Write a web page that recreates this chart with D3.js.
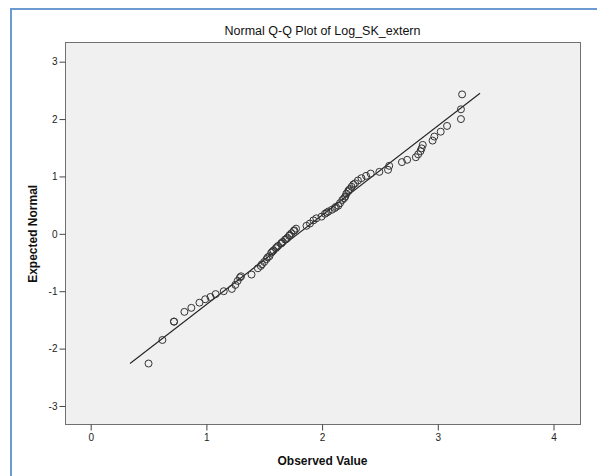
<!DOCTYPE html>
<html>
<head>
<meta charset="utf-8">
<script src="https://cdn.jsdelivr.net/npm/d3@7"></script>
<style>
  body { margin: 0; background: #fff; }
  svg text { font-family: "Liberation Sans", Arial, sans-serif; }
</style>
</head>
<body>
<div id="chart"></div>
<script>
const observed = [
	0.50, 0.62, 0.72, 0.72, 0.81, 0.87, 0.94, 0.99, 1.035, 1.08,
	1.15, 1.22, 1.25, 1.27, 1.29, 1.30, 1.39, 1.445, 1.47, 1.48,
	1.50, 1.52, 1.53, 1.545, 1.56, 1.57, 1.58, 1.60, 1.61, 1.62,
	1.645, 1.65, 1.66, 1.68, 1.69, 1.70, 1.715, 1.72, 1.735, 1.755,
	1.76, 1.775, 1.865, 1.895, 1.925, 1.95, 1.995, 2.025, 2.04, 2.055,
	2.085, 2.11, 2.12, 2.14, 2.155, 2.175, 2.19, 2.20, 2.21, 2.225,
	2.23, 2.24, 2.255, 2.27, 2.285, 2.31, 2.34, 2.38, 2.42, 2.495,
	2.57, 2.58, 2.69, 2.735, 2.81, 2.83, 2.85, 2.86, 2.87, 2.955,
	2.97, 3.025, 3.08, 3.20, 3.20, 3.21
];
const expected = [
	-2.26, -1.85, -1.53, -1.53, -1.36, -1.29, -1.20, -1.14, -1.10, -1.05,
	-1.00, -0.96, -0.89, -0.82, -0.76, -0.74, -0.71, -0.60, -0.56, -0.53,
	-0.49, -0.44, -0.41, -0.39, -0.33, -0.31, -0.29, -0.25, -0.23, -0.21,
	-0.17, -0.16, -0.14, -0.10, -0.09, -0.07, -0.035, -0.02, 0.01, 0.05,
	0.06, 0.09, 0.14, 0.18, 0.235, 0.27, 0.30, 0.35, 0.37, 0.39,
	0.42, 0.45, 0.47, 0.49, 0.535, 0.59, 0.62, 0.65, 0.70, 0.74,
	0.76, 0.78, 0.82, 0.86, 0.88, 0.93, 0.97, 1.01, 1.05, 1.08,
	1.115, 1.185, 1.25, 1.29, 1.335, 1.385, 1.44, 1.49, 1.55, 1.625,
	1.695, 1.78, 1.88, 2.00, 2.17, 2.43
];
// reference line end points
const lineX = [0.34, 3.365];
const lineY = [-2.26, 2.45];

const xTicks = [0, 1, 2, 3, 4];
const yTicks = [-3, -2, -1, 0, 1, 2, 3];

const width = 597, height = 476;
const plot = { left: 65, top: 42, right: 580, bottom: 424 };

const svg = d3.select("#chart")
	.append("svg")
	.attr("width", width)
	.attr("height", height);

// blue outer frame
svg.append("rect")
	.attr("x", 11)
	.attr("y", 9)
	.attr("width", width)
	.attr("height", height)
	.style("fill", "none")
	.style("stroke", "#6b9bd2")
	.style("stroke-width", 2);

const x = d3.scaleLinear().domain([-0.222, 4.229]).range([plot.left, plot.right]);
const y = d3.scaleLinear().domain([-3.314, 3.343]).range([plot.bottom, plot.top]);

svg.append("rect")
	.attr("x", plot.left + 0.5)
	.attr("y", plot.top + 0.5)
	.attr("width", plot.right - plot.left)
	.attr("height", plot.bottom - plot.top)
	.style("fill", "#f0f0f0")
	.style("stroke", "#707070")
	.style("stroke-width", 1);

// plain hyphen minus like the original, not the unicode minus
const plain = d => String(d);

const xAxis = d3.axisBottom(x).tickValues(xTicks).tickFormat(plain).tickSize(6).tickPadding(3);
svg.append("g")
	.attr("class", "x axis")
	.attr("transform", "translate(0," + (plot.bottom + 0.5) + ")")
	.call(xAxis);

const yAxis = d3.axisLeft(y).tickValues(yTicks).tickFormat(plain).tickSize(6).tickPadding(2);
svg.append("g")
	.attr("class", "y axis")
	.attr("transform", "translate(" + (plot.left + 0.5) + ",0)")
	.call(yAxis);

svg.selectAll(".axis .domain").remove();
svg.selectAll(".axis line").style("stroke", "#444");
svg.selectAll(".axis text")
	.style("font-size", "10px")
	.style("fill", "#222")
	.style("font-family", "'Liberation Sans', Arial, sans-serif");

// fitted line
const line = d3.line()
	.x(d => x(d[0]))
	.y(d => y(d[1]));

svg.append("path")
	.attr("d", line(d3.zip(lineX, lineY)))
	.style("fill", "none")
	.style("stroke", "#222")
	.style("stroke-width", 1.1);

// points
svg.selectAll("circle.pt")
	.data(d3.zip(observed, expected))
	.enter().append("circle")
	.attr("class", "pt")
	.attr("cx", d => x(d[0]))
	.attr("cy", d => y(d[1]))
	.attr("r", 3.5)
	.style("fill", "none")
	.style("stroke", "#333")
	.style("stroke-width", 1);

// titles
svg.append("text")
	.attr("x", (plot.left + plot.right) / 2)
	.attr("y", 35)
	.attr("text-anchor", "middle")
	.style("font-size", "12.5px")
	.style("fill", "#111")
	.text("Normal Q-Q Plot of Log_SK_extern");

svg.append("text")
	.attr("x", (plot.left + plot.right) / 2)
	.attr("y", 465)
	.attr("text-anchor", "middle")
	.style("font-size", "12px")
	.style("font-weight", "bold")
	.style("fill", "#111")
	.text("Observed Value");

svg.append("text")
	.attr("transform", "translate(37," + y(0) + ") rotate(-90)")
	.attr("text-anchor", "middle")
	.style("font-size", "12px")
	.style("font-weight", "bold")
	.style("fill", "#111")
	.text("Expected Normal");
</script>
</body>
</html>
